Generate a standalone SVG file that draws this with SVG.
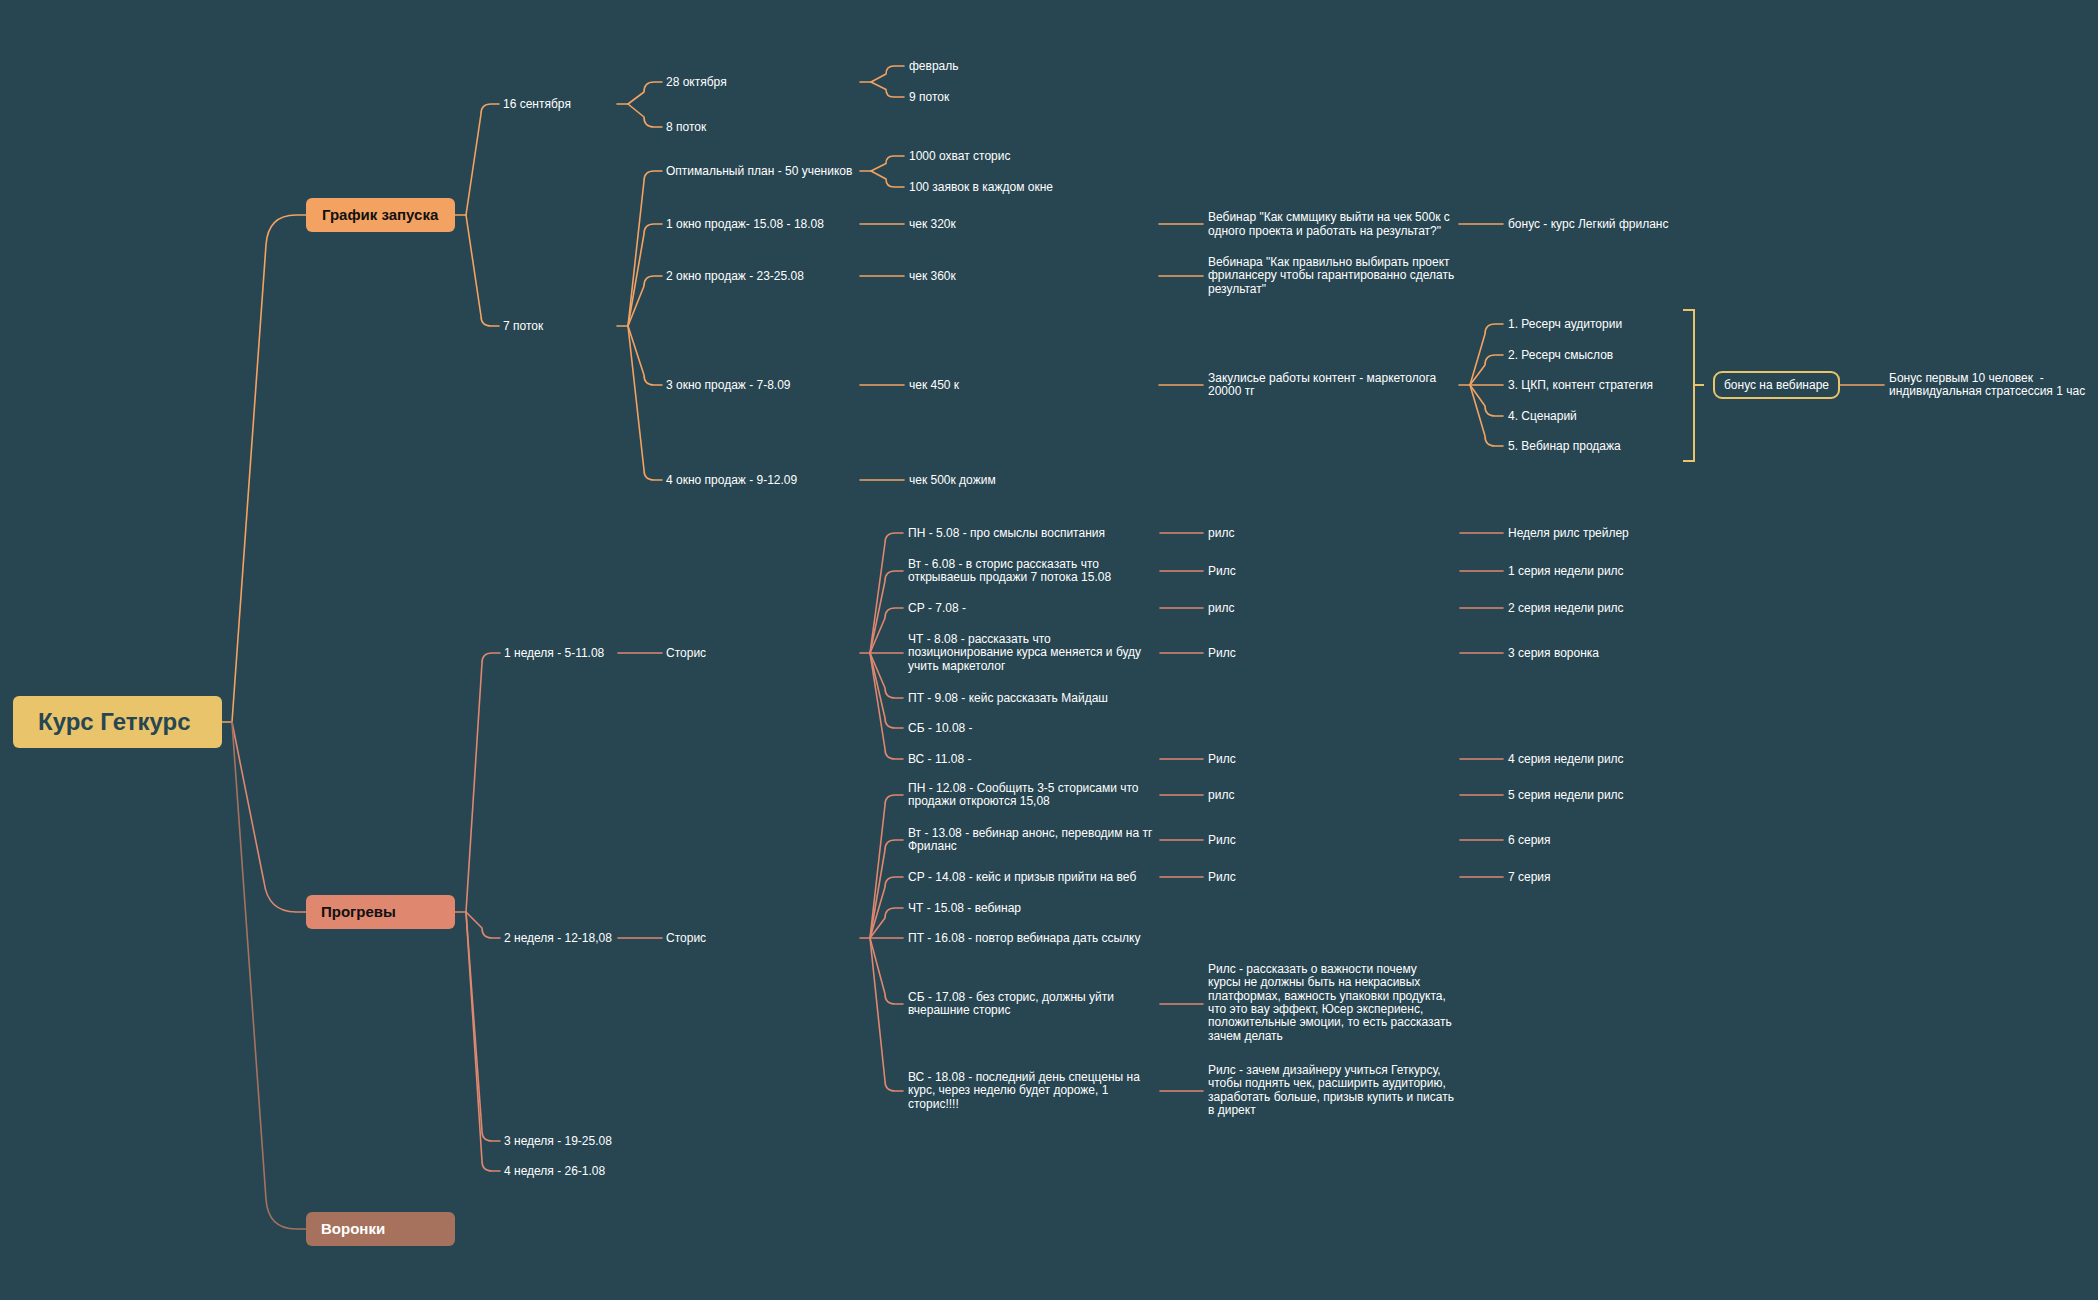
<svg xmlns="http://www.w3.org/2000/svg" width="2098" height="1300" viewBox="0 0 2098 1300">
<style>
.t{font-family:"Liberation Sans",Arial,sans-serif;font-size:12px;fill:#ffffff}
.b{font-family:"Liberation Sans",Arial,sans-serif;font-weight:bold;font-size:15px}
.c{fill:none;stroke-width:1.6;stroke-linecap:round;stroke-linejoin:round}
.o{stroke:#F4A261}
.s{stroke:#DF876F}
.v{stroke:#A6725E}
.y{stroke:#E9C46A;fill:none;stroke-width:2}
</style>
<rect width="2098" height="1300" fill="#274652"/>
<g id="connectors">
  <path class="c o" d="M222 722 L232 722"/>
  <path class="c o" d="M232 722 L266 245 Q268 215 296 215 L306 215"/>
  <path class="c s" d="M232 722 L264 882 Q268 912 296 912 L306 912"/>
  <path class="c v" d="M232 722 L266 1199 Q268 1229 296 1229 L306 1229"/>
  <path class="c o" d="M455 215 L466 215"/>
  <path class="c o" d="M466 215 L481 114 Q481 104 491 104 L499 104"/>
  <path class="c o" d="M466 215 L481 316 Q481 326 491 326 L499 326"/>
  <path class="c o" d="M617 104 L628 104"/>
  <path class="c o" d="M628 104 L644 92 Q644 82 654 82 L662 82"/>
  <path class="c o" d="M628 104 L644 117 Q644 127 654 127 L662 127"/>
  <path class="c o" d="M617 326 L628 326"/>
  <path class="c o" d="M628 326 L644 181 Q644 171 654 171 L662 171"/>
  <path class="c o" d="M628 326 L644 234 Q644 224 654 224 L662 224"/>
  <path class="c o" d="M628 326 L644 286 Q644 276 654 276 L662 276"/>
  <path class="c o" d="M628 326 L644 375 Q644 385 654 385 L662 385"/>
  <path class="c o" d="M628 326 L644 470 Q644 480 654 480 L662 480"/>
  <path class="c o" d="M860 82 L871 82"/>
  <path class="c o" d="M871 82 L886 74 Q886 66 894 66 L904 66"/>
  <path class="c o" d="M871 82 L886 89.5 Q886 97 893.5 97 L904 97"/>
  <path class="c o" d="M860 171 L871 171"/>
  <path class="c o" d="M871 171 L886 163.5 Q886 156 893.5 156 L904 156"/>
  <path class="c o" d="M871 171 L886 179 Q886 187 894 187 L904 187"/>
  <path class="c o" d="M860 224 L904 224"/>
  <path class="c o" d="M860 276 L904 276"/>
  <path class="c o" d="M860 385 L904 385"/>
  <path class="c o" d="M860 480 L904 480"/>
  <path class="c o" d="M1159 224 L1203 224"/>
  <path class="c o" d="M1159 276 L1203 276"/>
  <path class="c o" d="M1159 385 L1203 385"/>
  <path class="c o" d="M1459 224 L1503 224"/>
  <path class="c o" d="M1459 385 L1470 385"/>
  <path class="c o" d="M1470 385 L1485 334 Q1485 324 1495 324 L1503 324"/>
  <path class="c o" d="M1470 385 L1485 365 Q1485 355 1495 355 L1503 355"/>
  <path class="c o" d="M1470 385 L1503 385"/>
  <path class="c o" d="M1470 385 L1485 406 Q1485 416 1495 416 L1503 416"/>
  <path class="c o" d="M1470 385 L1485 436 Q1485 446 1495 446 L1503 446"/>
  <path class="y" d="M1683 310 L1694 310 L1694 461 L1683 461 M1694 385 L1704 385"/>
  <path class="c o" d="M1840 385 L1884 385"/>
  <path class="c s" d="M455 912 L466 912"/>
  <path class="c s" d="M466 912 L482 663 Q482 653 492 653 L500 653"/>
  <path class="c s" d="M466 912 L482 928 Q482 938 492 938 L500 938"/>
  <path class="c s" d="M466 912 L482 1131 Q482 1141 492 1141 L500 1141"/>
  <path class="c s" d="M466 912 L482 1161 Q482 1171 492 1171 L500 1171"/>
  <path class="c s" d="M618 653 L662 653"/>
  <path class="c s" d="M618 938 L662 938"/>
  <path class="c s" d="M860 653 L870 653"/>
  <path class="c s" d="M870 653 L885 543 Q885 533 895 533 L903 533"/>
  <path class="c s" d="M870 653 L885 581 Q885 571 895 571 L903 571"/>
  <path class="c s" d="M870 653 L885 618 Q885 608 895 608 L903 608"/>
  <path class="c s" d="M870 653 L903 653"/>
  <path class="c s" d="M870 653 L885 688 Q885 698 895 698 L903 698"/>
  <path class="c s" d="M870 653 L885 718 Q885 728 895 728 L903 728"/>
  <path class="c s" d="M870 653 L885 749 Q885 759 895 759 L903 759"/>
  <path class="c s" d="M860 938 L870 938"/>
  <path class="c s" d="M870 938 L885 805 Q885 795 895 795 L903 795"/>
  <path class="c s" d="M870 938 L885 850 Q885 840 895 840 L903 840"/>
  <path class="c s" d="M870 938 L885 887 Q885 877 895 877 L903 877"/>
  <path class="c s" d="M870 938 L885 918 Q885 908 895 908 L903 908"/>
  <path class="c s" d="M870 938 L903 938"/>
  <path class="c s" d="M870 938 L885 994 Q885 1004 895 1004 L903 1004"/>
  <path class="c s" d="M870 938 L885 1081 Q885 1091 895 1091 L903 1091"/>
  <path class="c s" d="M1160 533 L1203 533"/>
  <path class="c s" d="M1160 571 L1203 571"/>
  <path class="c s" d="M1160 608 L1203 608"/>
  <path class="c s" d="M1160 653 L1203 653"/>
  <path class="c s" d="M1160 759 L1203 759"/>
  <path class="c s" d="M1160 795 L1203 795"/>
  <path class="c s" d="M1160 840 L1203 840"/>
  <path class="c s" d="M1160 877 L1203 877"/>
  <path class="c s" d="M1160 1004 L1203 1004"/>
  <path class="c s" d="M1160 1091 L1203 1091"/>
  <path class="c s" d="M1460 533 L1503 533"/>
  <path class="c s" d="M1460 571 L1503 571"/>
  <path class="c s" d="M1460 608 L1503 608"/>
  <path class="c s" d="M1460 653 L1503 653"/>
  <path class="c s" d="M1460 759 L1503 759"/>
  <path class="c s" d="M1460 795 L1503 795"/>
  <path class="c s" d="M1460 840 L1503 840"/>
  <path class="c s" d="M1460 877 L1503 877"/>
</g>
<g id="root">
  <rect x="13" y="696" width="209" height="52" rx="6" fill="#E9C46A"/>
  <text x="38" y="730" font-family="Liberation Sans, Arial, sans-serif" font-weight="bold" font-size="24" fill="#264653">Курс Геткурс</text>
</g>
<g id="n-grafik">
  <rect x="306" y="198" width="149" height="34" rx="6" fill="#F4A261"/>
  <text class="b" x="322" y="220" fill="#111111">График запуска</text>
</g>
<g id="n-progrevy">
  <rect x="306" y="895" width="149" height="34" rx="6" fill="#DF876F"/>
  <text class="b" x="321" y="917" fill="#111111">Прогревы</text>
</g>
<g id="n-voronki">
  <rect x="306" y="1212" width="149" height="34" rx="6" fill="#A6725E"/>
  <text class="b" x="321" y="1234" fill="#ffffff">Воронки</text>
</g>
<g id="n-16sent"><text class="t" x="503" y="108">16 сентября</text></g>
<g id="n-7potok"><text class="t" x="503" y="330">7 поток</text></g>
<g id="n-28okt"><text class="t" x="666" y="86">28 октября</text></g>
<g id="n-8potok"><text class="t" x="666" y="131">8 поток</text></g>
<g id="n-optplan"><text class="t" x="666" y="175">Оптимальный план - 50 учеников</text></g>
<g id="n-okno1"><text class="t" x="666" y="228">1 окно продаж- 15.08 - 18.08</text></g>
<g id="n-okno2"><text class="t" x="666" y="280">2 окно продаж - 23-25.08</text></g>
<g id="n-okno3"><text class="t" x="666" y="389">3 окно продаж - 7-8.09</text></g>
<g id="n-okno4"><text class="t" x="666" y="484">4 окно продаж - 9-12.09</text></g>
<g id="n-fevral"><text class="t" x="909" y="70">февраль</text></g>
<g id="n-9potok"><text class="t" x="909" y="101">9 поток</text></g>
<g id="n-1000"><text class="t" x="909" y="160">1000 охват сторис</text></g>
<g id="n-100"><text class="t" x="909" y="191">100 заявок в каждом окне</text></g>
<g id="n-chek320"><text class="t" x="909" y="228">чек 320к</text></g>
<g id="n-chek360"><text class="t" x="909" y="280">чек 360к</text></g>
<g id="n-chek450"><text class="t" x="909" y="389">чек 450 к</text></g>
<g id="n-chek500"><text class="t" x="909" y="484">чек 500к дожим</text></g>
<g id="n-web1"><text class="t" x="1208" y="221">Вебинар "Как сммщику выйти на чек 500к с<tspan x="1208" dy="13.5">одного проекта и работать на результат?"</tspan></text></g>
<g id="n-web2"><text class="t" x="1208" y="266">Вебинара "Как правильно выбирать проект<tspan x="1208" dy="13.3">фрилансеру чтобы гарантированно сделать</tspan><tspan x="1208" dy="13.3">результат"</tspan></text></g>
<g id="n-zakul"><text class="t" x="1208" y="382">Закулисье работы контент - маркетолога<tspan x="1208" dy="13.3">20000 тг</tspan></text></g>
<g id="n-bonuskurs"><text class="t" x="1508" y="228">бонус - курс Легкий фриланс</text></g>
<g id="n-r1"><text class="t" x="1508" y="328">1. Ресерч аудитории</text></g>
<g id="n-r2"><text class="t" x="1508" y="359">2. Ресерч смыслов</text></g>
<g id="n-r3"><text class="t" x="1508" y="389">3. ЦКП, контент стратегия</text></g>
<g id="n-r4"><text class="t" x="1508" y="420">4. Сценарий</text></g>
<g id="n-r5"><text class="t" x="1508" y="450">5. Вебинар продажа</text></g>
<g id="n-bonusweb">
  <rect class="y" x="1714" y="372" width="125" height="26" rx="8"/>
  <text class="t" x="1776.5" y="389" text-anchor="middle">бонус на вебинаре</text>
</g>
<g id="n-bonus10"><text class="t" x="1889" y="382" xml:space="preserve">Бонус первым 10 человек  -<tspan x="1889" dy="13.3">индивидуальная стратсессия 1 час</tspan></text></g>
<g id="n-ned1"><text class="t" x="504" y="657">1 неделя - 5-11.08</text></g>
<g id="n-ned2"><text class="t" x="504" y="942">2 неделя - 12-18,08</text></g>
<g id="n-ned3"><text class="t" x="504" y="1145">3 неделя - 19-25.08</text></g>
<g id="n-ned4"><text class="t" x="504" y="1175">4 неделя - 26-1.08</text></g>
<g id="n-storis1"><text class="t" x="666" y="657">Сторис</text></g>
<g id="n-storis2"><text class="t" x="666" y="942">Сторис</text></g>
<g id="n-d1"><text class="t" x="908" y="537">ПН - 5.08 - про смыслы воспитания</text></g>
<g id="n-d2"><text class="t" x="908" y="568">Вт - 6.08 - в сторис рассказать что<tspan x="908" dy="13.3">открываешь продажи 7 потока 15.08</tspan></text></g>
<g id="n-d3"><text class="t" x="908" y="612">СР - 7.08 -</text></g>
<g id="n-d4"><text class="t" x="908" y="643">ЧТ - 8.08 - рассказать что<tspan x="908" dy="13.3">позиционирование курса меняется и буду</tspan><tspan x="908" dy="13.3">учить маркетолог</tspan></text></g>
<g id="n-d5"><text class="t" x="908" y="702">ПТ - 9.08 - кейс рассказать Майдаш</text></g>
<g id="n-d6"><text class="t" x="908" y="732">СБ - 10.08 -</text></g>
<g id="n-d7"><text class="t" x="908" y="763">ВС - 11.08 -</text></g>
<g id="n-e1"><text class="t" x="908" y="792">ПН - 12.08 - Сообщить 3-5 сторисами что<tspan x="908" dy="13.3">продажи откроются 15,08</tspan></text></g>
<g id="n-e2"><text class="t" x="908" y="837">Вт - 13.08 - вебинар анонс, переводим на тг<tspan x="908" dy="13.3">Фриланс</tspan></text></g>
<g id="n-e3"><text class="t" x="908" y="881">СР - 14.08 - кейс и призыв прийти на веб</text></g>
<g id="n-e4"><text class="t" x="908" y="912">ЧТ - 15.08 - вебинар</text></g>
<g id="n-e5"><text class="t" x="908" y="942">ПТ - 16.08 - повтор вебинара дать ссылку</text></g>
<g id="n-e6"><text class="t" x="908" y="1001">СБ - 17.08 - без сторис, должны уйти<tspan x="908" dy="13.3">вчерашние сторис</tspan></text></g>
<g id="n-e7"><text class="t" x="908" y="1081">ВС - 18.08 - последний день спеццены на<tspan x="908" dy="13.3">курс, через неделю будет дороже, 1</tspan><tspan x="908" dy="13.3">сторис!!!!</tspan></text></g>
<g id="n-rl1"><text class="t" x="1208" y="537">рилс</text></g>
<g id="n-rl2"><text class="t" x="1208" y="575">Рилс</text></g>
<g id="n-rl3"><text class="t" x="1208" y="612">рилс</text></g>
<g id="n-rl4"><text class="t" x="1208" y="657">Рилс</text></g>
<g id="n-rl5"><text class="t" x="1208" y="763">Рилс</text></g>
<g id="n-rl6"><text class="t" x="1208" y="799">рилс</text></g>
<g id="n-rl7"><text class="t" x="1208" y="844">Рилс</text></g>
<g id="n-rl8"><text class="t" x="1208" y="881">Рилс</text></g>
<g id="n-rl9"><text class="t" x="1208" y="973">Рилс - рассказать о важности почему<tspan x="1208" dy="13.3">курсы не должны быть на некрасивых</tspan><tspan x="1208" dy="13.3">платформах, важность упаковки продукта,</tspan><tspan x="1208" dy="13.3">что это вау эффект, Юсер экспериенс,</tspan><tspan x="1208" dy="13.3">положительные эмоции, то есть рассказать</tspan><tspan x="1208" dy="13.3">зачем делать</tspan></text></g>
<g id="n-rl10"><text class="t" x="1208" y="1074">Рилс - зачем дизайнеру учиться Геткурсу,<tspan x="1208" dy="13.3">чтобы поднять чек, расширить аудиторию,</tspan><tspan x="1208" dy="13.3">заработать больше, призыв купить и писать</tspan><tspan x="1208" dy="13.3">в директ</tspan></text></g>
<g id="n-s1"><text class="t" x="1508" y="537">Неделя рилс трейлер</text></g>
<g id="n-s2"><text class="t" x="1508" y="575">1 серия недели рилс</text></g>
<g id="n-s3"><text class="t" x="1508" y="612">2 серия недели рилс</text></g>
<g id="n-s4"><text class="t" x="1508" y="657">3 серия воронка</text></g>
<g id="n-s5"><text class="t" x="1508" y="763">4 серия недели рилс</text></g>
<g id="n-s6"><text class="t" x="1508" y="799">5 серия недели рилс</text></g>
<g id="n-s7"><text class="t" x="1508" y="844">6 серия</text></g>
<g id="n-s8"><text class="t" x="1508" y="881">7 серия</text></g>
</svg>
